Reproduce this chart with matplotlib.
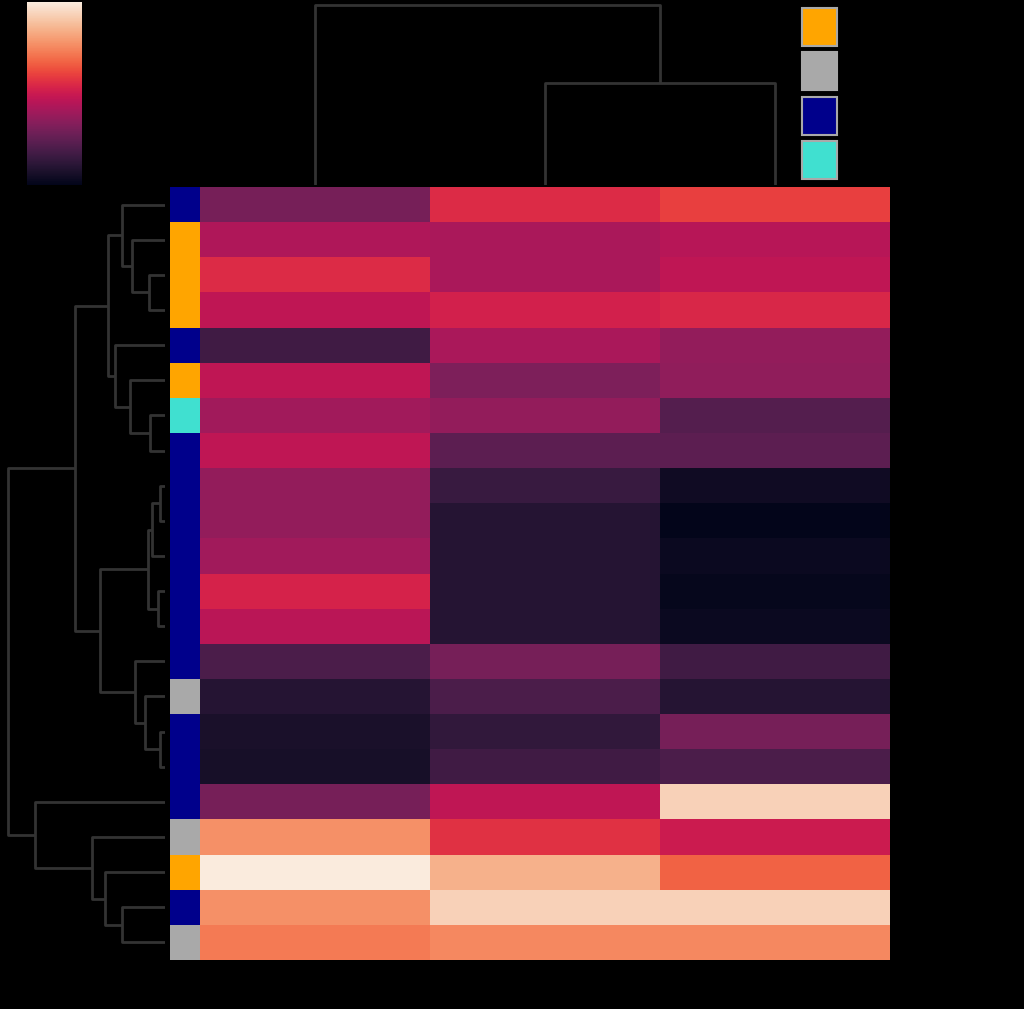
import numpy as np
import matplotlib
matplotlib.use("Agg")
import matplotlib.pyplot as plt
from matplotlib.colors import ListedColormap
from matplotlib.patches import Patch
import seaborn as sns

# ---------------- data ----------------
row_labels = ["var_mfcc2", "min_poly3", "max_poly9", "var_poly2", "median_mfcc1",
              "var_poly10", "median_zcr", "min_mfcc3", "max_mfcc16", "max_mfcc20",
              "var_mfcc18", "max_mfcc12", "max_mfcc19", "var_mfcc4", "median_rms",
              "median_mfcc4", "var_mfcc9", "var_mfcc1", "max_rms", "min_poly10",
              "max_mfcc1", "var_rms"]
row_groups = ["mfcc", "poly", "poly", "poly", "mfcc",
              "poly", "zcr", "mfcc", "mfcc", "mfcc",
              "mfcc", "mfcc", "mfcc", "mfcc", "rms",
              "mfcc", "mfcc", "mfcc", "rms", "poly",
              "mfcc", "rms"]
group_names = ["poly", "rms", "mfcc", "zcr"]
group_colors = ["orange", "darkgray", "darkblue", "turquoise"]

col0 = [0.0145, 0.0188, 0.0228, 0.0201, 0.0101, 0.0201, 0.0178, 0.0201, 0.0168, 0.0168,
        0.0178, 0.0221, 0.0198, 0.0111, 0.0078, 0.0068, 0.0065, 0.0145, 0.0301, 0.0377,
        0.0301, 0.0284]
col1 = [0.0228, 0.0185, 0.0185, 0.0218, 0.0185, 0.0151, 0.0168, 0.0125, 0.0095, 0.0078,
        0.0078, 0.0078, 0.0078, 0.0145, 0.0111, 0.0088, 0.0101, 0.0201, 0.0234, 0.0327,
        0.0354, 0.0294]
col2 = [0.0244, 0.0195, 0.0201, 0.0224, 0.0168, 0.0165, 0.0118, 0.0125, 0.0058, 0.0045,
        0.0055, 0.0050, 0.0055, 0.0101, 0.0078, 0.0145, 0.0111, 0.0354, 0.0211, 0.0267,
        0.0354, 0.0294]
cbar_ticks = [0.005, 0.010, 0.015, 0.020, 0.025, 0.030, 0.035]

# row linkage (node ids: leaves 0..21, then merged clusters 22, 23, ...)
row_link_a = [2, 1, 0, 6, 5, 4, 24, 8, 29, 11, 30, 15, 14, 13, 32, 28, 20, 19, 18, 17, 37]
row_link_b = [3, 22, 23, 7, 25, 26, 27, 9, 10, 12, 31, 16, 33, 34, 35, 36, 21, 38, 39, 40, 41]
row_link_h = [0.105, 0.21, 0.274, 0.095, 0.223, 0.318, 0.363, 0.032, 0.083, 0.045, 0.108,
              0.032, 0.127, 0.19, 0.414, 0.573, 0.274, 0.382, 0.465, 0.827, 1.0]
# column linkage (leaves 0..2, then 3, 4)
col_link_a = [1, 0]
col_link_b = [2, 3]
col_link_h = [0.567, 1.0]


def dendro_segments(n, la, lb, lh):
    pos = {i: i + 0.5 for i in range(n)}
    hgt = {i: 0.0 for i in range(n)}
    segs = []
    for k, (a, b, h) in enumerate(zip(la, lb, lh)):
        node = n + k
        pa, pb = pos[a], pos[b]
        segs.append(([hgt[a], h, h, hgt[b]], [pa, pa, pb, pb]))
        pos[node] = (pa + pb) / 2
        hgt[node] = h
    return segs


# ---------------- figure ----------------
plt.rcParams['font.family'] = ['DejaVu Sans']
W, H = 1024, 1009
fig = plt.figure(figsize=(W / 100, H / 100), dpi=100, facecolor='black')


def fx(x):
    return x / W


def fy(y):
    return 1 - y / H


hm_l, hm_r, hm_t, hm_b = 200, 890, 187, 960
ax_hm = fig.add_axes([fx(hm_l), fy(hm_b), fx(hm_r - hm_l), (hm_b - hm_t) / H])
ax_rc = fig.add_axes([fx(170), fy(hm_b), fx(hm_l - 170), (hm_b - hm_t) / H])
ax_rd = fig.add_axes([fx(0), fy(hm_b), fx(165), (hm_b - hm_t) / H])
ax_cd = fig.add_axes([fx(hm_l), fy(185), fx(hm_r - hm_l), 185 / H])
ax_cb = fig.add_axes([fx(27), fy(185), fx(55), 183 / H])

cmap = sns.color_palette("rocket", as_cmap=True)
data = np.column_stack([col0, col1, col2])
n_rows, n_cols = data.shape
vmin, vmax = data.min(), data.max()

mesh = ax_hm.pcolormesh(np.arange(n_cols + 1), np.arange(n_rows + 1), data,
                        cmap=cmap, vmin=vmin, vmax=vmax)
ax_hm.set_xlim(0, n_cols)
ax_hm.set_ylim(n_rows, 0)
ax_hm.set_xticks([])
ax_hm.yaxis.tick_right()
ax_hm.set_yticks(np.arange(n_rows) + 0.5)
ax_hm.set_yticklabels(row_labels, fontsize=8.3, color='black')
ax_hm.tick_params(axis='y', length=4, width=1.2, pad=3, color='black')
for s in ax_hm.spines.values():
    s.set_visible(False)

# row colors
gidx = np.array([[group_names.index(g)] for g in row_groups])
ax_rc.pcolormesh(np.arange(2), np.arange(n_rows + 1), gidx,
                 cmap=ListedColormap(group_colors), vmin=-0.5, vmax=len(group_names) - 0.5)
ax_rc.set_xlim(0, 1)
ax_rc.set_ylim(n_rows, 0)
ax_rc.axis('off')

# row dendrogram
for xs, ys in dendro_segments(n_rows, row_link_a, row_link_b, row_link_h):
    ax_rd.plot(xs, ys, color='0.2', lw=2.0, solid_capstyle='butt')
ax_rd.set_ylim(n_rows, 0)
ax_rd.set_xlim(max(row_link_h) * 1.05, 0)
ax_rd.axis('off')

# col dendrogram
for hs, ps in dendro_segments(n_cols, col_link_a, col_link_b, col_link_h):
    ax_cd.plot(ps, hs, color='0.2', lw=2.0, solid_capstyle='butt')
ax_cd.set_xlim(0, n_cols)
ax_cd.set_ylim(0, max(col_link_h) * 1.025)
ax_cd.axis('off')

# colorbar
cb = fig.colorbar(mesh, cax=ax_cb, ticks=cbar_ticks)
cb.ax.tick_params(labelsize=8.3, length=4, width=1.2, colors='black')
cb.outline.set_visible(False)

# legend of row groups (patches only)
handles = [Patch(facecolor=c, edgecolor='darkgray', lw=1.5) for c in group_colors]
fig.legend(handles, [''] * len(handles), loc='upper left',
           bbox_to_anchor=(fx(802), fy(8)), frameon=False,
           handlelength=2.5, handleheight=3.84, labelspacing=0.45,
           handletextpad=0, borderpad=0, borderaxespad=0, fontsize=10)

fig.savefig("out.png", dpi=100, facecolor='black')
